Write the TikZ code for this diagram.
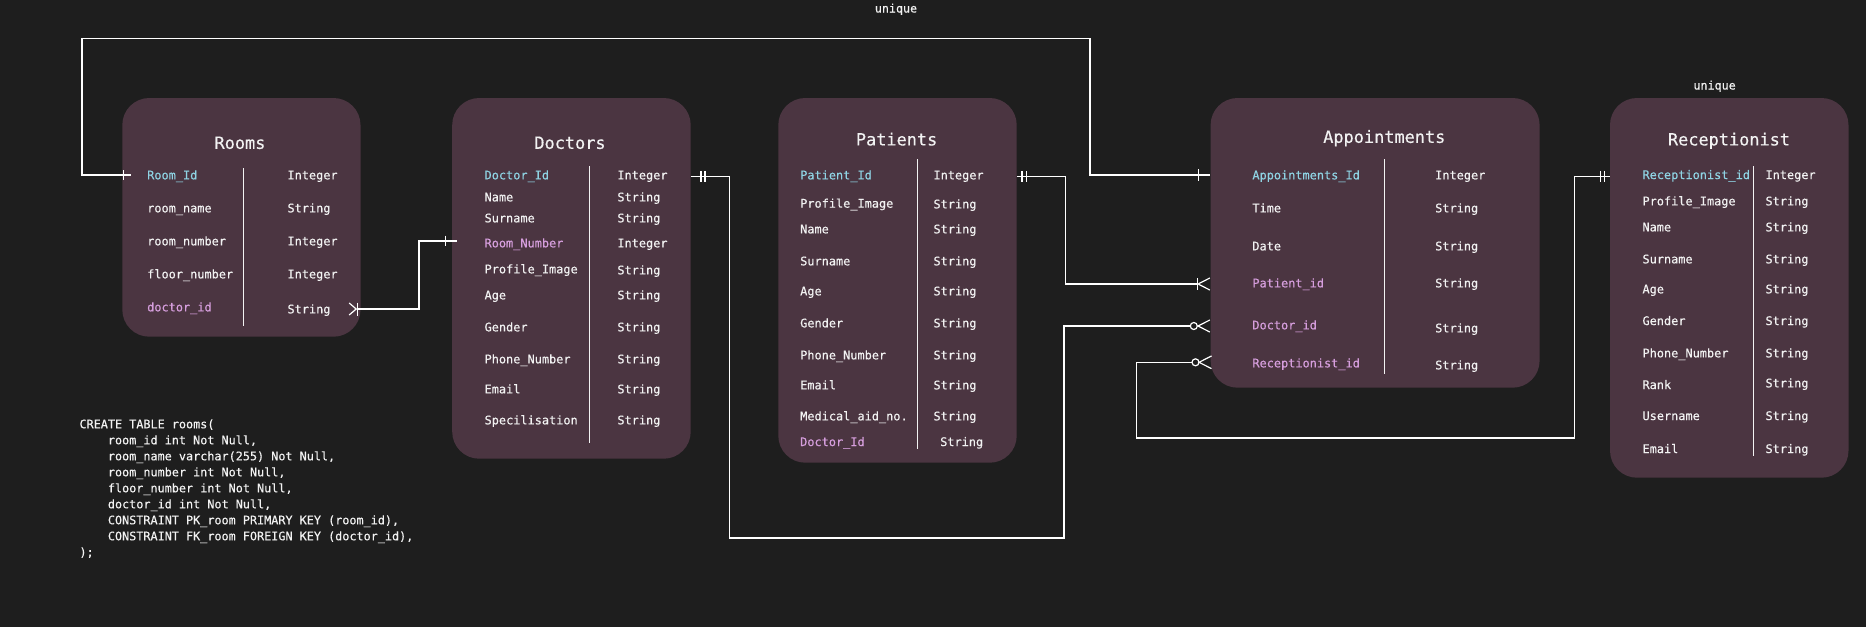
\documentclass[tikz,border=0pt]{standalone}
\usepackage{fontspec}
\usetikzlibrary{calc}
\newfontfamily\erfont[FakeBold=0.35]{DejaVu Sans Mono}
\definecolor{bg}{HTML}{1E1E1E}
\definecolor{boxfill}{HTML}{4B3541}
\definecolor{pkcol}{HTML}{8FD4E4}
\definecolor{fkcol}{HTML}{D69EDD}
\definecolor{txt}{HTML}{F2F2F2}
\begin{document}
\begin{tikzpicture}[x=1pt,y=-1pt,
  tbl/.style={fill=boxfill, draw=none, rounded corners=27pt, inner sep=0pt},
  fld/.style={font=\erfont\fontsize{11.9}{14}\selectfont, text=txt, inner sep=0pt, text height=8.7pt, text depth=0pt, anchor=west},
  ttl/.style={font=\erfont\fontsize{16.9}{20}\selectfont, text=txt, inner sep=0pt, text height=12.3pt, text depth=0pt},
  lbl/.style={font=\erfont\fontsize{11.7}{14}\selectfont, text=txt, inner sep=0pt, anchor=base},
  sqlline/.style={font=\erfont\fontsize{11.8}{14}\selectfont, text=txt, inner sep=0pt, text height=8.6pt, text depth=0pt, anchor=west},
  divl/.style={draw=txt, line width=1.2pt},
  conn/.style={draw=white, line width=1.2pt},
  endmark/.style={draw=white, line width=1.2pt}
]
\fill[bg] (0,0) rectangle (1866,627);
\useasboundingbox (0,0) rectangle (1866,627);

% ---------- tables ----------
\node[tbl, minimum width=238.2pt, minimum height=238.7pt] (rooms) at (241.4,217.35) {};
\node[tbl, minimum width=238.5pt, minimum height=360.7pt] (doctors) at (571.45,278.35) {};
\node[tbl, minimum width=238.4pt, minimum height=364.7pt] (patients) at (897.5,280.35) {};
\node[tbl, minimum width=329pt, minimum height=289.7pt] (appts) at (1375.1,242.85) {};
\node[tbl, minimum width=238.5pt, minimum height=379.7pt] (recep) at (1729.25,287.85) {};

% titles
\node[ttl] (rooms-title) at (240,142.7) {Rooms};
\node[ttl] (doctors-title) at (570,142.7) {Doctors};
\node[ttl] (patients-title) at (896.6,139.3) {Patients};
\node[ttl] (appts-title) at (1384.3,136.7) {Appointments};
\node[ttl] (recep-title) at (1729,139.3) {Receptionist};

% dividers
\draw[divl] (243.5,168) -- (243.5,325.7);
\draw[divl] (589.3,166.3) -- (589.3,442.7);
\draw[divl] (917.6,159.3) -- (917.6,448.7);
\draw[divl] (1384.3,159.3) -- (1384.3,374);
\draw[divl] (1753.3,166) -- (1753.3,455.7);

% Rooms fields
\foreach \n/\t/\y/\yt/\c [count=\i] in {
  Room\_Id/Integer/175/175/pkcol,
  room\_name/String/208/208/txt,
  room\_number/Integer/241/241/txt,
  floor\_number/Integer/274/274/txt,
  doctor\_id/String/307/309/fkcol}
{ \node[fld, text=\c] (rooms-n\i) at (147,\y) {\n};
  \node[fld] (rooms-t\i) at (287.3,\yt) {\t}; }

% Doctors fields
\foreach \n/\t/\y/\yt/\c [count=\i] in {
  Doctor\_Id/Integer/175/175/pkcol,
  Name/String/197/197/txt,
  Surname/String/218/218/txt,
  Room\_Number/Integer/243/243/fkcol,
  Profile\_Image/String/269/270/txt,
  Age/String/295/295/txt,
  Gender/String/327/327/txt,
  Phone\_Number/String/359/359/txt,
  Email/String/389/389/txt,
  Specilisation/String/420/420/txt}
{ \node[fld, text=\c] (doctors-n\i) at (484.4,\y) {\n};
  \node[fld] (doctors-t\i) at (617.2,\yt) {\t}; }

% Patients fields
\foreach \n/\t/\y/\yt/\c [count=\i] in {
  Patient\_Id/Integer/175/175/pkcol,
  Profile\_Image/String/203.3/204/txt,
  Name/String/229/229/txt,
  Surname/String/261/261/txt,
  Age/String/291/291/txt,
  Gender/String/323/323/txt,
  Phone\_Number/String/355/355/txt,
  Email/String/385/385/txt,
  Medical\_aid\_no./String/416/416/txt}
{ \node[fld, text=\c] (patients-n\i) at (800,\y) {\n};
  \node[fld] (patients-t\i) at (933.3,\yt) {\t}; }
\node[fld, text=fkcol] (patients-n10) at (800,441.7) {Doctor\_Id};
\node[fld] (patients-t10) at (940,441.7) {String};

% Appointments fields
\foreach \n/\t/\y/\yt/\c [count=\i] in {
  Appointments\_Id/Integer/175/175/pkcol,
  Time/String/208/208/txt,
  Date/String/246/246/txt,
  Patient\_id/String/283/283/fkcol,
  Doctor\_id/String/325/328/fkcol,
  Receptionist\_id/String/363/365/fkcol}
{ \node[fld, text=\c] (appts-n\i) at (1252.2,\y) {\n};
  \node[fld] (appts-t\i) at (1435,\yt) {\t}; }

% Receptionist fields
\foreach \n/\t/\y/\yt/\c [count=\i] in {
  Receptionist\_id/Integer/174.7/174.7/pkcol,
  Profile\_Image/String/201/201/txt,
  Name/String/227/227/txt,
  Surname/String/259/259/txt,
  Age/String/289/289/txt,
  Gender/String/320.7/320.7/txt,
  Phone\_Number/String/353/353/txt,
  Rank/String/384.7/383/txt,
  Username/String/415.7/415.7/txt,
  Email/String/448.7/448.7/txt}
{ \node[fld, text=\c] (recep-n\i) at (1642.3,\y) {\n};
  \node[fld] (recep-t\i) at (1765.3,\yt) {\t}; }

% unique labels
\node[lbl] (uq1) at (896,12.5) {unique};
\node[lbl] (uq2) at (1714.6,89.5) {unique};

% SQL
\node[sqlline] (sql1) at (79.3,424) {CREATE TABLE rooms(};
\node[sqlline] (sql2) at (107.7,440) {room\_id int Not Null,};
\node[sqlline] (sql3) at (107.7,456) {room\_name varchar(255) Not Null,};
\node[sqlline] (sql4) at (107.7,472) {room\_number int Not Null,};
\node[sqlline] (sql5) at (107.7,488) {floor\_number int Not Null,};
\node[sqlline] (sql6) at (107.7,504) {doctor\_id int Not Null,};
\node[sqlline] (sql7) at (107.7,520) {CONSTRAINT PK\_room PRIMARY KEY (room\_id),};
\node[sqlline] (sql8) at (107.7,536) {CONSTRAINT FK\_room FOREIGN KEY (doctor\_id),};
\node[sqlline] (sql9) at (79.3,552) {);};

% ---------- connector end points ----------
\coordinate (e1a) at (rooms.west |- rooms-n1.west);
\coordinate (e1b) at (appts.west |- appts-n1.west);
\coordinate (e2a) at (rooms.east |- rooms-t5.west);
\coordinate (e2b) at ($(doctors.west |- doctors-n4.west)+(0,-2)$);
\coordinate (e3a) at ($(doctors.east |- doctors-n1.west)+(0,1.3)$);
\coordinate (e3b) at ($(appts.west |- appts-n5.west)+(0,1)$);
\coordinate (e4a) at ($(patients.east |- patients-n1.west)+(0,1.7)$);
\coordinate (e4b) at ($(appts.west |- appts-n4.west)+(0,1)$);
\coordinate (e5a) at ($(recep.west |- recep-n1.west)+(0,1.6)$);
\coordinate (e5b) at ($(appts.west |- appts-n6.west)+(0,-0.7)$);

% C1: Rooms.Room_Id -- Appointments.Appointments_Id
\draw[conn] ($(e1a)+(8.4,0)$) -- (81.9,175) -- (81.9,38.3) -- (1090,38.3) -- (1090,175) -- (e1b);
\draw[endmark] ($(e1a)+(1.7,-5)$) -- ++(0,10);
\draw[endmark] ($(e1b)+(-12.2,-6)$) -- ++(0,12);

% C2: Rooms.doctor_id >|-- Doctors.Room_Number
\draw[conn] ($(e2a)+(-3.2,0)$) -- (419,309) -- (419,241) -- ($(e2b)+(4.8,0)$);
\draw[endmark] ($(e2a)+(-11.5,-6)$) -- ($(e2a)+(-4.5,0)$) -- ($(e2a)+(-11.5,6)$);
\draw[endmark] ($(e2a)+(-3.2,-6.5)$) -- ++(0,13);
\draw[endmark] ($(e2b)+(-6.2,-5.3)$) -- ++(0,10.6);

% C3: Doctors.Doctor_Id ||-- o< Appointments.Doctor_id
\draw[conn] (e3a) -- (729.5,176.3) -- (729.5,538) -- (1064,538) -- (1064,326) -- ($(e3b)+(-20.1,0)$);
\draw[endmark] ($(e3a)+(10,-5.5)$) -- ++(0,11);
\draw[endmark] ($(e3a)+(14,-5.5)$) -- ++(0,11);
\draw[endmark] ($(e3b)+(-16.6,0)$) circle[radius=3.5pt];
\draw[endmark] ($(e3b)+(-0.6,-6)$) -- ($(e3b)+(-12.4,0)$) -- ($(e3b)+(-0.6,6)$);

% C4: Patients.Patient_Id ||-- |< Appointments.Patient_id
\draw[conn] (e4a) -- (1065.5,176.7) -- (1065.5,284) -- ($(e4b)+(-12.3,0)$);
\draw[endmark] ($(e4a)+(5,-5.5)$) -- ++(0,11);
\draw[endmark] ($(e4a)+(9.5,-5.5)$) -- ++(0,11);
\draw[endmark] ($(e4b)+(-13.3,-6)$) -- ++(0,12);
\draw[endmark] ($(e4b)+(-0.6,-6)$) -- ($(e4b)+(-12.3,0)$) -- ($(e4b)+(-0.6,6)$);

% C5: Receptionist.Receptionist_id ||-- o< Appointments.Receptionist_id
\draw[conn] (e5a) -- (1574.6,176.3) -- (1574.6,438) -- (1136.5,438) -- (1136.5,362.3) -- ($(e5b)+(-18.4,0)$);
\draw[endmark] ($(e5a)+(-9.3,-5.5)$) -- ++(0,11);
\draw[endmark] ($(e5a)+(-5.3,-5.5)$) -- ++(0,11);
\draw[endmark] ($(e5b)+(-14.9,0)$) circle[radius=3.5pt];
\draw[endmark] ($(e5b)+(1.1,-6.3)$) -- ($(e5b)+(-11.4,0)$) -- ($(e5b)+(1.1,6.3)$);
\end{tikzpicture}
\end{document}
